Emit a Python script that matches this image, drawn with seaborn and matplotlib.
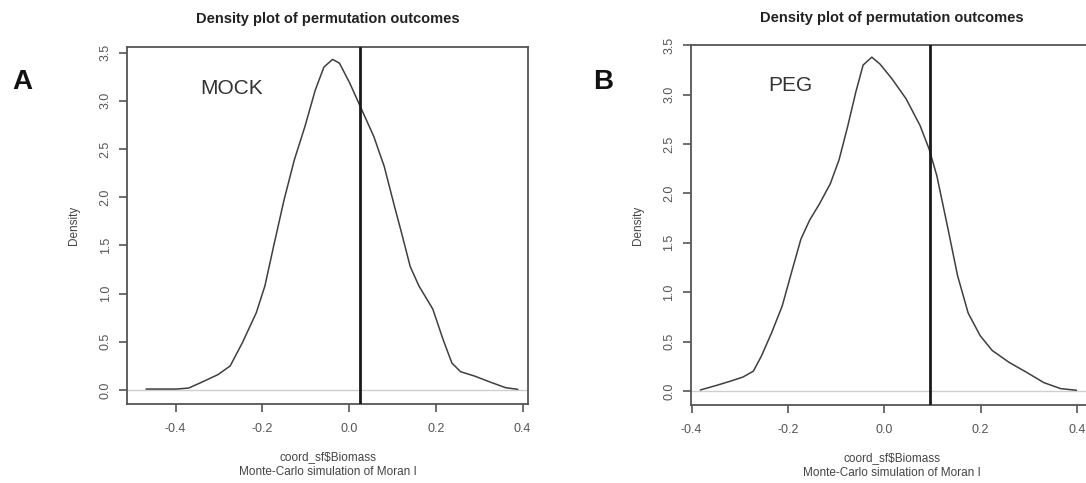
import numpy as np
import pandas as pd
import matplotlib
matplotlib.use("Agg")
import matplotlib.pyplot as plt
import seaborn as sns

# Density curves (Monte-Carlo Moran I permutations)
mock_x = [-0.468, -0.398, -0.370, -0.342, -0.302, -0.274, -0.246, -0.214, -0.194,
          -0.174, -0.150, -0.126, -0.102, -0.078, -0.058, -0.038, -0.022, 0.002,
          0.026, 0.057, 0.081, 0.105, 0.121, 0.141, 0.161, 0.193, 0.217, 0.237,
          0.257, 0.289, 0.329, 0.361, 0.389]
mock_y = [0.01, 0.01, 0.02, 0.076, 0.16, 0.25, 0.49, 0.80, 1.08,
          1.49, 1.97, 2.39, 2.73, 3.11, 3.35, 3.43, 3.39, 3.18,
          2.94, 2.63, 2.32, 1.90, 1.63, 1.28, 1.08, 0.84, 0.52, 0.28,
          0.19, 0.145, 0.076, 0.024, 0.007]
mock_obs = 0.025

peg_x = [-0.382, -0.348, -0.319, -0.294, -0.272, -0.255, -0.234, -0.212, -0.191,
         -0.173, -0.155, -0.134, -0.112, -0.094, -0.076, -0.059, -0.044, -0.026,
         -0.009, 0.016, 0.045, 0.074, 0.093, 0.109, 0.131, 0.152, 0.174, 0.199,
         0.224, 0.259, 0.295, 0.331, 0.366, 0.399]
peg_y = [0.01, 0.057, 0.10, 0.14, 0.20, 0.355, 0.59, 0.86, 1.23,
         1.54, 1.73, 1.90, 2.10, 2.34, 2.68, 3.03, 3.30, 3.38,
         3.31, 3.16, 2.96, 2.69, 2.45, 2.18, 1.67, 1.17, 0.79, 0.56,
         0.41, 0.29, 0.19, 0.085, 0.024, 0.007]
peg_obs = 0.095

panel_labels = ["A", "B"]
group_labels = ["MOCK", "PEG"]
x_ticks = [-0.4, -0.2, 0.0, 0.2, 0.4]
y_ticks = [0.0, 0.5, 1.0, 1.5, 2.0, 2.5, 3.0, 3.5]

sns.set_theme(style="white")
plt.rcParams['font.family'] = ['Liberation Sans', 'DejaVu Sans']

fig = plt.figure(figsize=(10.86, 4.83), dpi=100)
ax_a = fig.add_axes([0.1169, 0.1636, 0.3695, 0.7398])
ax_b = fig.add_axes([0.636, 0.1615, 0.3712, 0.7447])

panels = [
    (ax_a, mock_x, mock_y, mock_obs, (-0.512, 0.413), (-0.145, 3.562), (-0.271, 3.13)),
    (ax_b, peg_x, peg_y, peg_obs, (-0.402, 0.435), (-0.142, 3.50), (-0.196, 3.09)),
]

for i, (ax, xs, ys, obs, xlim, ylim, txt) in enumerate(panels):
    df = pd.DataFrame({'x': xs, 'y': ys})
    ax.axhline(0, color='#cfcfcf', lw=1.0, zorder=1)
    sns.lineplot(data=df, x='x', y='y', ax=ax, color='#3f3f3f', lw=1.1, sort=False, zorder=2)
    ax.axvline(obs, color='#1a1a1a', lw=2.0, zorder=3)
    ax.set_xlim(*xlim)
    ax.set_ylim(*ylim)
    ax.set_xticks(x_ticks)
    ax.set_xticklabels([f"{v:.1f}" for v in x_ticks])
    ax.set_yticks(y_ticks)
    ax.set_yticklabels([f"{v:.1f}" for v in y_ticks], rotation=90, va='center')
    ax.tick_params(axis='both', which='both', direction='out', length=6, width=1.2,
                   color='#555555', labelcolor='#555555', labelsize=9, left=True, bottom=True)
    ax.tick_params(axis='x', pad=8)
    ax.tick_params(axis='y', pad=5)
    for sp in ax.spines.values():
        sp.set_color('#555555')
        sp.set_linewidth(1.3)
        sp.set_visible(True)
    ax.set_xlabel("coord_sf$Biomass\nMonte-Carlo simulation of Moran I",
                  fontsize=8.5, color='#444444', labelpad=11, linespacing=1.35)
    ax.set_ylabel("Density", fontsize=8.5, color='#444444', labelpad=14)
    ax.set_title("Density plot of permutation outcomes", fontsize=10.5,
                 fontweight='bold', color='#222222', pad=17)
    ax.text(txt[0], txt[1], group_labels[i], fontsize=15, color='#333333',
            ha='center', va='center')

fig.text(22.7 / 1086, 1 - 81.7 / 483, panel_labels[0], fontsize=20, fontweight='bold',
         ha='center', va='center', color='#111111')
fig.text(603.5 / 1086, 1 - 81.7 / 483, panel_labels[1], fontsize=20, fontweight='bold',
         ha='center', va='center', color='#111111')

fig.savefig("out.png", dpi=100, facecolor='white')
